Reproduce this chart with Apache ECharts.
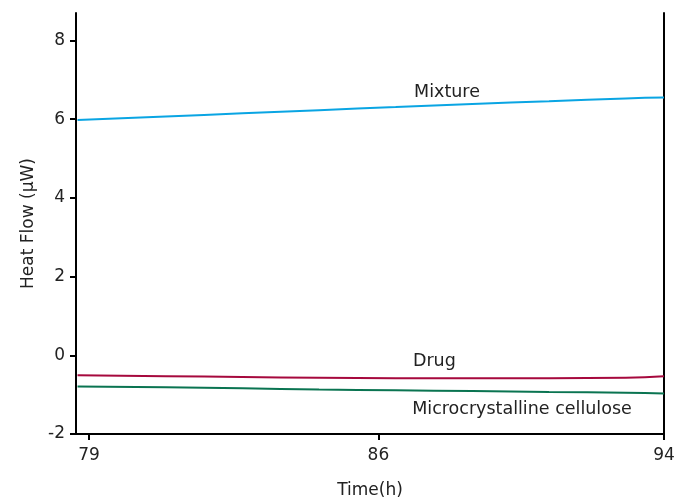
<!DOCTYPE html>
<html><head><meta charset="utf-8">
<script src="https://cdn.jsdelivr.net/npm/echarts@6/dist/echarts.min.js"></script>
<style>html,body{margin:0;padding:0;background:#fff}#c{width:679px;height:499px}</style>
</head><body><div id="c"></div>
<script>
// Data
const time = [78.7, 81, 83, 85, 87, 89, 91, 93, 94];
const mixture = [5.98, 6.07, 6.15, 6.23, 6.31, 6.39, 6.46, 6.53, 6.55];
const drug = [-0.51, -0.53, -0.55, -0.57, -0.58, -0.58, -0.58, -0.57, -0.53];
const mcc = [-0.79, -0.81, -0.84, -0.87, -0.89, -0.91, -0.93, -0.95, -0.97];
const xTicks = [79, 86.55, 94];
const xTickLabels = ['79', '86', '94'];
const yTicks = [-2, 0, 2, 4, 6, 8];
const seriesNames = ['Mixture', 'Drug', 'Microcrystalline cellulose'];
const labelPos = [[87.48, 6.68], [87.45, -0.16], [87.43, -1.38]];

const font = 'DejaVu Sans';
const colors = ['#0aa5e3', '#a6093d', '#0a7451'];
const vals = [mixture, drug, mcc];

const chart = echarts.init(document.getElementById('c'));
chart.setOption({
  animation: false,
  textStyle: {fontFamily: font},
  grid: {left: 76, right: 15, top: 13, bottom: 65, containLabel: false, outerBoundsMode: 'none'},
  xAxis: {
    type: 'value', min: 78.66, max: 94,
    name: 'Time(h)', nameLocation: 'middle', nameGap: 48,
    nameTextStyle: {fontSize: 17, color: '#222', fontFamily: font},
    axisLine: {show: true, onZero: false, lineStyle: {color: '#000', width: 2}},
    axisTick: {show: true, customValues: xTicks, length: 6, lineStyle: {color: '#000', width: 2}},
    axisLabel: {customValues: xTicks, fontSize: 17, color: '#222', margin: 13,
      formatter: v => xTickLabels[xTicks.indexOf(v)]},
    splitLine: {show: false}
  },
  yAxis: [{
    type: 'value', min: -2, max: 8.7,
    name: 'Heat Flow (µW)', nameLocation: 'middle', nameGap: 37,
    nameTextStyle: {fontSize: 17, color: '#222', fontFamily: font},
    axisLine: {show: true, onZero: false, lineStyle: {color: '#000', width: 2}},
    axisTick: {show: true, customValues: yTicks, length: 6, lineStyle: {color: '#000', width: 2}},
    axisLabel: {customValues: yTicks, fontSize: 17, color: '#222', margin: 11},
    splitLine: {show: false}
  }, {
    type: 'value', min: -2, max: 8.7, position: 'right',
    axisLine: {show: true, onZero: false, lineStyle: {color: '#000', width: 2}},
    axisTick: {show: false}, axisLabel: {show: false}, splitLine: {show: false}
  }],
  series: vals.map((v, i) => ({
    type: 'line', name: seriesNames[i], smooth: true, symbol: 'none',
    data: time.map((t, j) => [t, v[j]]),
    lineStyle: {color: colors[i], width: 2},
    markPoint: {
      symbolSize: 0,
      data: [{coord: labelPos[i], value: seriesNames[i]}],
      label: {show: true, position: 'right', distance: 0, formatter: seriesNames[i],
        fontSize: 17.5, color: '#222', fontFamily: font}
    }
  }))
});
</script></body></html>
